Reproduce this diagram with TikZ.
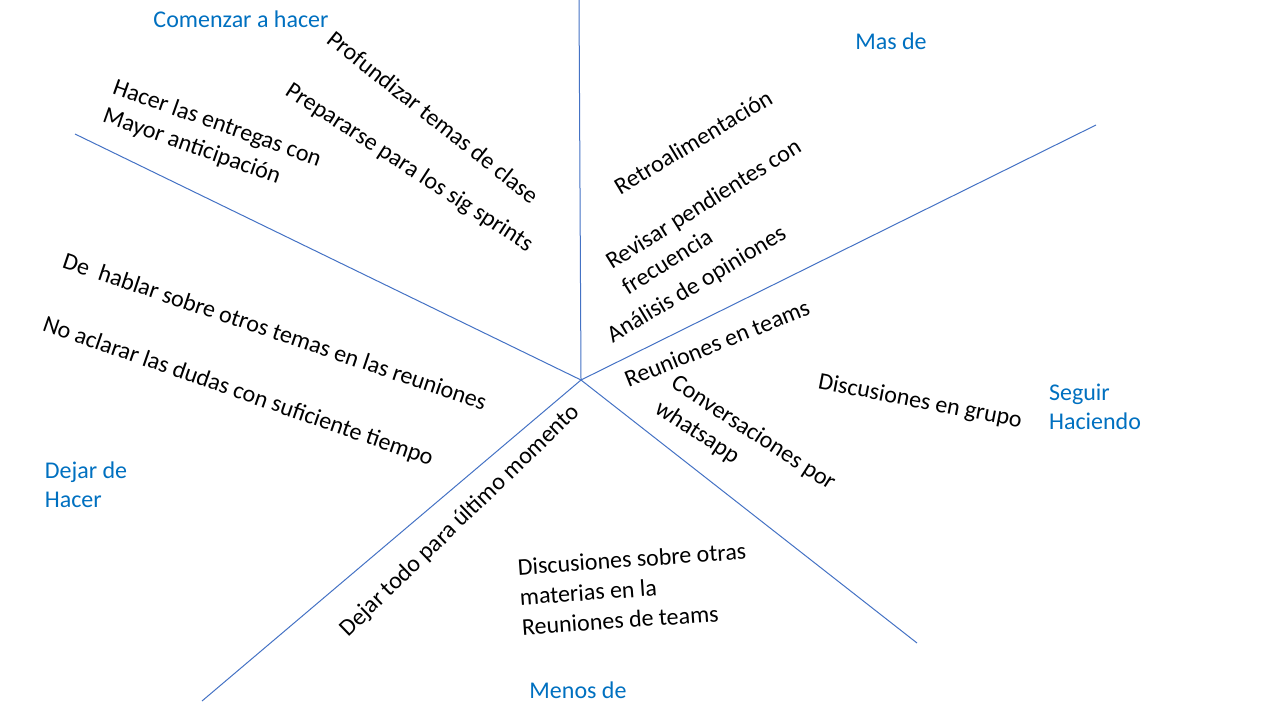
\documentclass[tikz,border=0pt]{standalone}
\usepackage{fontspec}
\setmainfont{Carlito}
\definecolor{titleblue}{HTML}{0070C0}
\definecolor{lineblue}{HTML}{4472C4}

\begin{document}
\begin{tikzpicture}[x=0.75pt,y=-0.75pt]
  \useasboundingbox (0,0) rectangle (1280,720);
  \coordinate (centro)   at (581,380);
  \coordinate (arriba)   at (579,0);
  \coordinate (derecha)  at (1096,125);
  \coordinate (abajo-der) at (917,643);
  \coordinate (abajo-izq) at (202,701);
  \coordinate (izquierda) at (75,134);
  \begin{scope}[every path/.style={draw=lineblue,line width=0.75pt}]
    \path (centro) -- (arriba);
    \path (centro) -- (derecha);
    \path (centro) -- (abajo-der);
    \path (centro) -- (abajo-izq);
    \path (centro) -- (izquierda);
  \end{scope}
  \begin{scope}[
    every node/.style={
      text=titleblue,
      align=left,
      inner sep=0pt,
      font=\fontsize{18}{21.6}\selectfont,
    },
    ]
    \node (comenzar) at (241,19)   {Comenzar a hacer};
    \node (masde)    at (891,41)   {Mas de};
    \node (seguir)   at (1095,407) {Seguir\\Haciendo};
    \node (dejar)    at (86,485)   {Dejar de\\Hacer};
    \node (menos)    at (578,690)  {Menos de};
  \end{scope}
  \begin{scope}[
    every node/.style={
      align=left,
      inner sep=0pt,
      font=\fontsize{18}{22.5}\selectfont,
    },
    ]
    \node[rotate=-38.4] (profundizar) at (433,117) {Profundizar temas de clase};
    \node[rotate=-33]   (prepararse)  at (409,168) {Prepararse para los sig sprints};
    \node[rotate=-19.5] (entregas)    at (212,138) {Hacer las entregas con\\Mayor anticipación};
    \node[rotate=-18.7] (hablar)      at (275,331) {De\ \ hablar sobre otros temas en las reuniones};
    \node[rotate=-19.2] (aclarar)     at (238,392) {No aclarar las dudas con suficiente tiempo};
    \node[rotate=31]    (retro)       at (693,142) {Retroalimentación};
    \node[rotate=32]    (revisar)     at (711,216) {Revisar pendientes con\\frecuencia};
    \node[rotate=31]    (analisis)    at (697,285) {Análisis de opiniones};
    \node[rotate=22]    (reuniones)   at (717,343) {Reuniones en teams};
    \node[rotate=-11]   (grupo)       at (920,402) {Discusiones en grupo};
    \node[rotate=-33]   (whatsapp)    at (745,446) {Conversaciones por\\whatsapp};
    \node[rotate=44]    (ultimo)      at (460,521) {Dejar todo para último momento};
    \node[rotate=4]     (materias)    at (634,589) {Discusiones sobre otras\\materias en la\\Reuniones de teams};
  \end{scope}
\end{tikzpicture}
\end{document}
